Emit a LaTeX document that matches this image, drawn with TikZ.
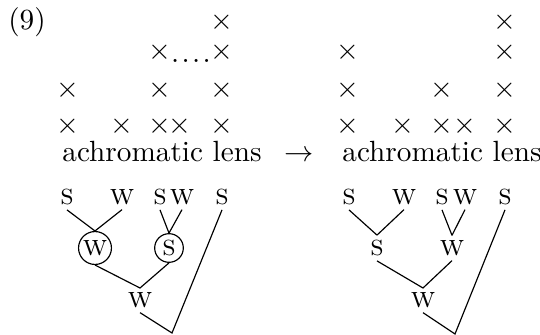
\documentclass[tikz,border=0pt]{standalone}
\usepackage{tikz}
\usetikzlibrary{positioning}

\begin{document}
\begin{tikzpicture}[x=0.342pt,y=-0.342pt,
  grid/.style={inner sep=0pt},
  lbl/.style={inner sep=1.5pt,font=\scshape},
  ring/.style={circle,draw,inner sep=0.5pt,minimum size=9.8pt,font=\scshape}]
\useasboundingbox (0,0) rectangle (540,335);
% example number
\node[grid] (num) at (27,22) {(9)};
% left grid
\node[grid] (l15) at (222,22) {$\times$};
\node[grid] (l23) at (160,52) {$\times$};
\node[grid] (ldots) at (191,61) {.\kern0.8pt.\kern0.8pt.\kern0.8pt.};
\node[grid] (l25) at (222,52) {$\times$};
\node[grid] (l31) at (68,90) {$\times$};
\node[grid] (l33) at (160,90) {$\times$};
\node[grid] (l35) at (222,90) {$\times$};
\node[grid] (l41) at (68,126) {$\times$};
\node[grid] (l42) at (122,126) {$\times$};
\node[grid] (l43) at (160,126) {$\times$};
\node[grid] (l44) at (180,126) {$\times$};
\node[grid] (l45) at (222,126) {$\times$};
\node[grid] (ltext) at (162,152) {achromatic lens};
\node[grid] (arrow) at (299,156) {$\rightarrow$};
% right grid
\node[grid] (r15) at (505,22) {$\times$};
\node[grid] (r21) at (348,52) {$\times$};
\node[grid] (r25) at (505,52) {$\times$};
\node[grid] (r31) at (348,90) {$\times$};
\node[grid] (r33) at (442,90) {$\times$};
\node[grid] (r35) at (505,90) {$\times$};
\node[grid] (r41) at (348,126) {$\times$};
\node[grid] (r42) at (403,126) {$\times$};
\node[grid] (r43) at (442,126) {$\times$};
\node[grid] (r44) at (465,126) {$\times$};
\node[grid] (r45) at (505,126) {$\times$};
\node[grid] (rtext) at (442,152) {achromatic lens};
% left tree
\node[lbl] (la) at (67,197) {s};
\node[lbl] (lb) at (122,197) {w};
\node[lbl] (lc) at (160,197) {s};
\node[lbl] (ld) at (182,197) {w};
\node[lbl] (le) at (222,197) {s};
\node[ring] (lW) at (95,248) {w};
\node[ring] (lS) at (169,248) {s};
\coordinate (ljoin) at (140,288);
\node[lbl] (lroot) at (140,300) {w};
\coordinate (lbot) at (172,333);
\draw (la.south) -- (lW.north);
\draw (lb.south) -- (lW.north);
\draw (lc.south) -- (lS.north);
\draw (ld.south) -- (lS.north);
\draw (lW.south) -- (ljoin) -- (lS.south);
\draw (lroot.south) -- (lbot) -- (le.south);
% right tree
\node[lbl] (ra) at (349,197) {s};
\node[lbl] (rb) at (404,197) {w};
\node[lbl] (rc) at (442,197) {s};
\node[lbl] (rd) at (465,197) {w};
\node[lbl] (re) at (505,197) {s};
\node[lbl] (rS) at (377,248) {s};
\node[lbl] (rW) at (452,248) {w};
\coordinate (rjoin) at (423,288);
\node[lbl] (rroot) at (423,300) {w};
\coordinate (rbot) at (455,334);
\draw (ra.south) -- (rS.north);
\draw (rb.south) -- (rS.north);
\draw (rc.south) -- (rW.north);
\draw (rd.south) -- (rW.north);
\draw (rS.south) -- (rjoin) -- (rW.south);
\draw (rroot.south) -- (rbot) -- (re.south);
\end{tikzpicture}
\end{document}
